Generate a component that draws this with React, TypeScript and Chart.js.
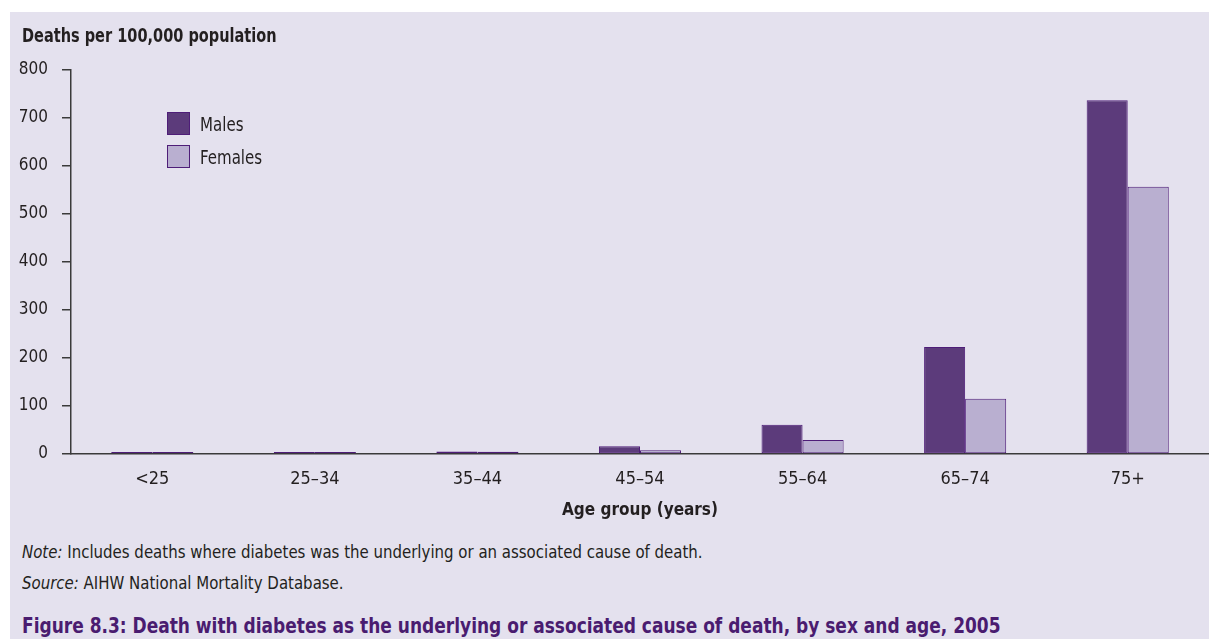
import React, { useEffect, useRef } from "react";
import { Chart, registerables } from "chart.js";

Chart.register(...registerables);

const categories = ["<25", "25–34", "35–44", "45–54", "55–64", "65–74", "75+"];
const males = [1, 2.5, 5, 16, 61, 223, 737];
const females = [0.8, 2, 4.5, 8, 29, 115, 557];
const seriesNames = ["Males", "Females"];
const yTicks = [0, 100, 200, 300, 400, 500, 600, 700, 800];

const FONT = "'Liberation Sans Narrow', 'DejaVu Sans Condensed', 'Arial Narrow', sans-serif";
const MALE_FILL = "#5c3b7b";
const FEMALE_FILL = "#b9afd0";
const BORDER = "#4e1d78";
const TEXT = "#231f20";
const BG = "#e4e1ee";

export default function App() {
  const ref = useRef<HTMLCanvasElement>(null);

  useEffect(() => {
    document.body.style.margin = "0";
    const canvas = ref.current;
    if (!canvas) return;
    const chart = new Chart(canvas, {
      type: "bar",
      data: {
        labels: categories,
        datasets: [
          {
            label: seriesNames[0],
            data: males,
            backgroundColor: MALE_FILL,
            borderColor: BORDER,
            borderWidth: 1,
            borderSkipped: false,
            minBarLength: 2,
            barPercentage: 1,
            categoryPercentage: 0.505,
          },
          {
            label: seriesNames[1],
            data: females,
            backgroundColor: FEMALE_FILL,
            borderColor: BORDER,
            borderWidth: 1,
            borderSkipped: false,
            minBarLength: 2,
            barPercentage: 1,
            categoryPercentage: 0.505,
          },
        ],
      },
      options: {
        responsive: false,
        animation: false,
        devicePixelRatio: 1,
        layout: { padding: { top: 70, left: 0, right: 0, bottom: 0 } },
        plugins: {
          legend: { display: false },
          tooltip: { enabled: false },
          title: { display: false },
        },
        scales: {
          x: {
            grid: { display: false, drawTicks: false },
            border: { display: true, color: "#3a3a3a", width: 1.5 },
            ticks: {
              color: TEXT,
              font: { family: FONT, size: 18 },
              padding: 15,
              maxRotation: 0,
            },
            title: {
              display: true,
              text: "Age group (years)",
              color: TEXT,
              font: { family: FONT, size: 17, weight: "bold" },
              padding: { top: 0, bottom: 9 },
            },
            afterFit: (scale: any) => {
              scale.height = 76;
            },
          },
          y: {
            min: 0,
            max: 800,
            afterBuildTicks: (scale: any) => {
              scale.ticks = yTicks.map((v) => ({ value: v }));
            },
            grid: {
              drawOnChartArea: false,
              drawTicks: true,
              tickLength: 9,
              color: "#3a3a3a",
              lineWidth: 1.5,
            },
            border: { display: true, color: "#3a3a3a", width: 1.5 },
            ticks: {
              color: TEXT,
              font: { family: FONT, size: 17 },
              padding: 14,
            },
            afterFit: (scale: any) => {
              scale.width = 71;
            },
          },
        },
      },
    });
    return () => chart.destroy();
  }, []);

  const textStyle: React.CSSProperties = {
    position: "absolute",
    left: 22,
    fontFamily: FONT,
    color: TEXT,
    whiteSpace: "nowrap",
    lineHeight: 1,
    transformOrigin: "left center",
  };

  return (
    <div style={{ position: "relative", width: 1209, height: 639, background: "#ffffff", overflow: "hidden" }}>
      <div style={{ position: "absolute", left: 10, top: 12, width: 1199, height: 627, background: BG }} />
      <canvas ref={ref} width={1209} height={530} style={{ position: "absolute", left: 0, top: 0, width: 1209, height: 530 }} />
      <div style={{ ...textStyle, top: 26, fontSize: 19, fontWeight: "bold", transform: "scaleX(0.85)" }}>
        Deaths per 100,000 population
      </div>
      {seriesNames.map((name, i) => (
        <div key={name} style={{ position: "absolute", left: 167, top: 112 + i * 33, height: 23, display: "flex", alignItems: "center" }}>
          <div style={{ width: 21, height: 21, background: i === 0 ? MALE_FILL : FEMALE_FILL, border: `1px solid ${BORDER}` }} />
          <span style={{ marginLeft: 10, fontFamily: FONT, fontSize: 19, color: TEXT, display: "inline-block", transform: "scaleX(0.88)", transformOrigin: "left center" }}>
            {name}
          </span>
        </div>
      ))}
      <div style={{ ...textStyle, top: 543, fontSize: 18, transform: "scaleX(0.925)" }}>
        <i>Note:</i> Includes deaths where diabetes was the underlying or an associated cause of death.
      </div>
      <div style={{ ...textStyle, top: 574, fontSize: 18, transform: "scaleX(0.925)" }}>
        <i>Source:</i> AIHW National Mortality Database.
      </div>
      <div style={{ ...textStyle, top: 615, fontSize: 22, fontWeight: "bold", color: "#4a1c70", transform: "scaleX(0.86)" }}>
        Figure 8.3: Death with diabetes as the underlying or associated cause of death, by sex and age, 2005
      </div>
    </div>
  );
}
